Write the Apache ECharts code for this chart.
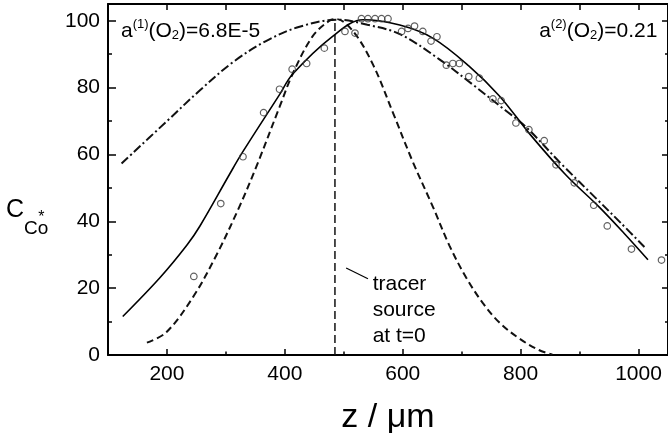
<!DOCTYPE html>
<html>
<head>
<meta charset="utf-8">
<script src="https://cdn.jsdelivr.net/npm/echarts@6/dist/echarts.min.js"></script>
<style>
  html, body { margin: 0; padding: 0; background: #fff; }
  #chart { width: 668px; height: 440px; }
</style>
</head>
<body>
<div id="chart"></div>
<script>
// Measured Co* tracer concentration profile (z in µm, c in %)
const measuredZ = [245.6, 291.3, 329, 364, 391, 412.4, 437, 467, 502, 519, 530, 541, 553, 564, 575,
  598, 609, 620, 634, 648, 658, 674, 685, 696, 712, 730, 753, 767, 792, 814, 840, 860, 891, 924, 947, 988, 1039];
const measuredC = [23.5, 45.3, 59.3, 72.5, 79.5, 85.5, 87.2, 91.8, 96.8, 96.3, 100.6, 100.6, 100.6, 100.6, 100.6,
  96.8, 97.7, 98.4, 96.8, 93.9, 95.2, 86.7, 87.2, 87.2, 83.3, 82.8, 76.6, 76.1, 69.4, 67.4, 64.1, 56.9, 51.5, 44.8, 38.6, 31.7, 28.4];

// Fitted profile (solid)
const fitZ = [125, 188, 234, 256, 306, 328, 391, 413, 480, 533, 595, 651, 712, 764, 816, 876, 933, 975, 1016];
const fitC = [11.5, 23.1, 32.9, 38.6, 54, 60.6, 77.9, 84.0, 95.2, 100.3, 98.7, 94.8, 86.5, 77.5, 66, 54, 44.3, 36.5, 28.5];

// Profile at a(1)(O2) (dashed)
const lowZ = [166, 199, 244.5, 284, 323, 352, 391, 413.5, 447, 475.5, 487, 516, 550, 584, 617, 651, 679, 707.5, 736, 764, 798, 831, 854];
const lowC = [3.7, 6.8, 17.4, 29.9, 44.4, 56.5, 74.2, 84.2, 95.3, 100, 100.5, 96.8, 86.7, 72.2, 57.8, 44.4, 32.8, 23.2, 15.5, 9.7, 4.9, 1.5, 0.1];

// Profile at a(2)(O2) (dash-dot)
const highZ = [123, 199, 256, 312, 368, 425, 490, 540, 595, 661, 718, 774, 808, 870, 930, 970, 1010];
const highC = [57.3, 69.8, 79.2, 87.6, 93.9, 98.2, 100.3, 98.8, 96, 88.6, 81, 73.2, 68.4, 57, 46.5, 39.5, 32.3];

// Initial tracer source position
const sourceZ = 485;
const sourceC = [0, 100];

const xMajor = [200, 400, 600, 800, 1000];
const xMinor = [300, 500, 700, 900];
const xTop = [200, 300, 400, 500, 600, 700, 800, 900, 1000];
const yMajor = [0, 20, 40, 60, 80, 100];
const yMinor = [10, 30, 50, 70, 90];

const FONT = 'Liberation Sans, Arial, sans-serif';
const pair = (xs, ys) => xs.map((x, i) => [x, ys[i]]);

const chart = echarts.init(document.getElementById('chart'), null, { renderer: 'canvas' });

const xBase = { type: 'value', min: 100, max: 1050, gridIndex: 0, splitLine: { show: false } };
const yBase = { type: 'value', min: 0, max: 105, gridIndex: 0, splitLine: { show: false } };
const tickStyle = { color: '#000', width: 1.5 };
const plain = v => String(v);

const option = {
  animation: false,
  backgroundColor: '#fff',
  grid: { left: 108, right: -2, top: 4, bottom: 73 },
  xAxis: [
    Object.assign({}, xBase, {
      position: 'bottom',
      axisLine: { show: true, onZero: false, lineStyle: { color: '#000', width: 2 } },
      axisTick: { show: true, inside: true, length: 6, customValues: xMajor, lineStyle: tickStyle },
      axisLabel: { show: true, customValues: xMajor, formatter: plain, margin: 9, color: '#000', fontSize: 21, fontFamily: FONT },
      name: 'z / \u03BCm', nameLocation: 'middle', nameGap: 46,
      nameTextStyle: { color: '#000', fontSize: 34, fontFamily: FONT }
    }),
    Object.assign({}, xBase, {
      position: 'bottom',
      axisLine: { show: false, onZero: false },
      axisTick: { show: true, inside: true, length: 3.5, customValues: xMinor, lineStyle: tickStyle },
      axisLabel: { show: false }
    }),
    Object.assign({}, xBase, {
      position: 'top',
      axisLine: { show: true, onZero: false, lineStyle: { color: '#000', width: 2 } },
      axisTick: { show: true, inside: true, length: 6, customValues: xTop, lineStyle: tickStyle },
      axisLabel: { show: false }
    })
  ],
  yAxis: [
    Object.assign({}, yBase, {
      position: 'left',
      axisLine: { show: true, onZero: false, lineStyle: { color: '#000', width: 2 } },
      axisTick: { show: true, inside: true, length: 8, customValues: yMajor, lineStyle: tickStyle },
      axisLabel: { show: true, customValues: yMajor, formatter: plain, margin: 8, color: '#000', fontSize: 21, fontFamily: FONT }
    }),
    Object.assign({}, yBase, {
      position: 'left',
      axisLine: { show: false, onZero: false },
      axisTick: { show: true, inside: true, length: 4, customValues: yMinor, lineStyle: tickStyle },
      axisLabel: { show: false }
    }),
    Object.assign({}, yBase, {
      position: 'right',
      axisLine: { show: true, onZero: false, lineStyle: { color: '#000', width: 2 } },
      axisTick: { show: true, inside: true, length: 6, customValues: yMajor, lineStyle: tickStyle },
      axisLabel: { show: false }
    }),
    Object.assign({}, yBase, {
      position: 'right',
      axisLine: { show: false, onZero: false },
      axisTick: { show: true, inside: true, length: 3, customValues: yMinor, lineStyle: tickStyle },
      axisLabel: { show: false }
    })
  ],
  series: [
    {
      name: 'a2', type: 'line', smooth: 0.35, symbol: 'none', z: 3,
      data: pair(highZ, highC),
      lineStyle: { color: '#111', width: 2, type: [9, 3, 2, 3] }
    },
    {
      name: 'a1', type: 'line', smooth: 0.35, symbol: 'none', z: 3,
      data: pair(lowZ, lowC),
      lineStyle: { color: '#111', width: 2, type: [7, 4] }
    },
    {
      name: 'fit', type: 'line', smooth: 0.35, symbol: 'none', z: 4,
      data: pair(fitZ, fitC),
      lineStyle: { color: '#000', width: 1.6, type: 'solid' }
    },
    {
      name: 'source', type: 'line', symbol: 'none', z: 3,
      data: sourceC.map(c => [sourceZ, c]),
      lineStyle: { color: '#111', width: 1.5, type: [8, 4] }
    },
    {
      name: 'measured', type: 'scatter', symbol: 'circle', symbolSize: 6.5, z: 5,
      data: pair(measuredZ, measuredC),
      itemStyle: { color: 'rgba(255,255,255,0)', borderColor: '#3a3a3a', borderWidth: 1.2 }
    }
  ]
};

chart.setOption(option);

// Annotations positioned in data space
const P = (z, c) => chart.convertToPixel({ xAxisIndex: 0, yAxisIndex: 0 }, [z, c]);
const richA = {
  t: { fontSize: 21, fontFamily: FONT, color: '#000', lineHeight: 24, verticalAlign: 'bottom' },
  sup: { fontSize: 13, fontFamily: FONT, color: '#000', lineHeight: 24, verticalAlign: 'top' },
  sub: { fontSize: 13, fontFamily: FONT, color: '#000', lineHeight: 12, verticalAlign: 'bottom' }
};
const pA1 = P(122, 98.5);
const pA2 = P(1032, 98.5);
const pLead1 = P(504, 26);
const pLead2 = P(541, 22.8);
const pTr = P(549, 27);

chart.setOption({
  graphic: [
    {
      type: 'text', x: pA1[0], y: pA1[1] - 8, z: 10,
      style: { text: '{t|a}{sup|(1)}{t|(O}{sub|2}{t|)=6.8E-5}', rich: richA }
    },
    {
      type: 'text', x: pA2[0], y: pA2[1] - 8, z: 10,
      style: { text: '{t|a}{sup|(2)}{t|(O}{sub|2}{t|)=0.21}', rich: richA, align: 'right' }
    },
    {
      type: 'line', z: 10,
      shape: { x1: pLead1[0], y1: pLead1[1], x2: pLead2[0], y2: pLead2[1] },
      style: { stroke: '#000', lineWidth: 1.2 }
    },
    {
      type: 'text', x: pTr[0], y: pTr[1] + 6, z: 10,
      style: { text: 'tracer\nsource\nat t=0', fontSize: 21, lineHeight: 26, fontFamily: FONT, fill: '#000' }
    },
    {
      type: 'text', x: 6, y: 198, z: 10,
      style: {
        text: '{c|C}{s|Co}{st|*}',
        rich: {
          c: { fontSize: 25, fontFamily: FONT, color: '#000', lineHeight: 40, verticalAlign: 'top' },
          s: { fontSize: 19, fontFamily: FONT, color: '#000', lineHeight: 40, verticalAlign: 'bottom' },
          st: { fontSize: 16, fontFamily: FONT, color: '#000', lineHeight: 40, verticalAlign: 'top', padding: [12, 0, 0, -10] }
        }
      }
    }
  ]
});
</script>
</body>
</html>
